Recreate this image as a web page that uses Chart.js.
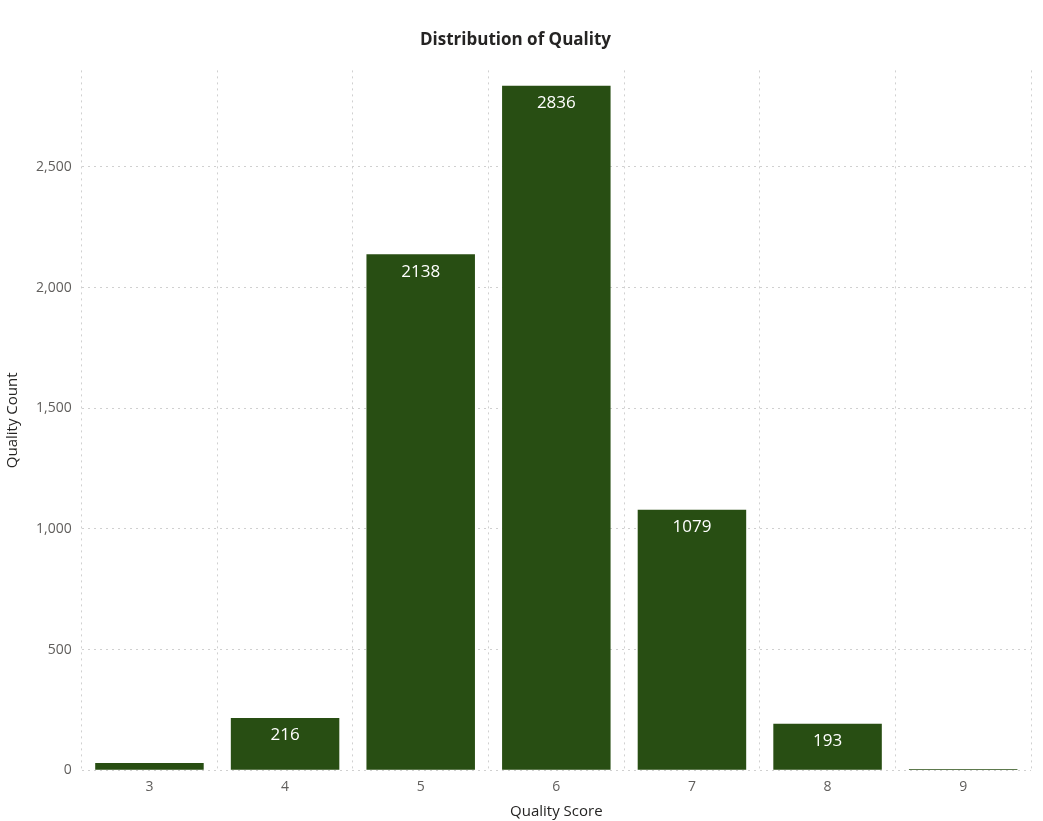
<!DOCTYPE html>
<html>
<head>
<meta charset="utf-8">
<script src="https://cdn.jsdelivr.net/npm/chart.js@4"></script>
<style>
  body { margin: 0; background: #fff; }
  #wrap { width: 1043px; height: 821px; }
</style>
</head>
<body>
<div id="wrap"><canvas id="chart"></canvas></div>
<script>
const scores = ['3', '4', '5', '6', '7', '8', '9'];
const counts = [30, 216, 2138, 2836, 1079, 193, 5];
const yTicks = [0, 500, 1000, 1500, 2000, 2500];

// white value labels inside the top of each bar
const barLabels = {
  id: 'barLabels',
  afterDatasetsDraw(chart) {
    const ctx = chart.ctx;
    const meta = chart.getDatasetMeta(0);
    ctx.save();
    ctx.fillStyle = '#fff';
    ctx.font = '17px "Open Sans", sans-serif';
    ctx.textAlign = 'center';
    ctx.textBaseline = 'top';
    meta.data.forEach((bar, i) => {
      if (bar.base - bar.y < 40) return;
      ctx.fillText(counts[i], bar.x, bar.y + 9);
    });
    ctx.restore();
  }
};

new Chart(document.getElementById('chart'), {
  type: 'bar',
  data: {
    labels: scores,
    datasets: [{
      data: counts,
      backgroundColor: '#284E13',
      categoryPercentage: 0.8,
      barPercentage: 1
    }]
  },
  options: {
    responsive: true,
    maintainAspectRatio: false,
    animation: false,
    layout: { padding: { top: 10, right: 12, left: 0, bottom: 0 } },
    plugins: {
      legend: { display: false },
      tooltip: { enabled: false },
      title: {
        display: true,
        text: 'Distribution of Quality',
        color: '#252423',
        font: { family: '"Open Sans", sans-serif', size: 17 },
        padding: { top: 20, bottom: 20 }
      }
    },
    scales: {
      x: {
        grid: { color: '#d0d0d0', borderDash: [2, 4], drawTicks: false },
        border: { display: false, dash: [2, 4] },
        ticks: { color: '#605E5C', font: { family: '"Open Sans", sans-serif', size: 14 }, padding: 8 },
        title: { display: true, text: 'Quality Score', color: '#252423', font: { family: '"Open Sans", sans-serif', size: 15 }, padding: 0 }
      },
      y: {
        min: 0,
        max: 2900,
        afterBuildTicks(axis) { axis.ticks = yTicks.map(v => ({ value: v })); },
        grid: { color: '#d0d0d0', drawTicks: false },
        border: { display: false, dash: [2, 4] },
        ticks: {
          color: '#605E5C',
          font: { family: '"Open Sans", sans-serif', size: 14 },
          padding: 10,
          callback: v => v.toLocaleString('en-US')
        },
        title: { display: true, text: 'Quality Count', color: '#252423', font: { family: '"Open Sans", sans-serif', size: 15 }, padding: 4 }
      }
    }
  },
  plugins: [barLabels]
});
</script>
</body>
</html>
